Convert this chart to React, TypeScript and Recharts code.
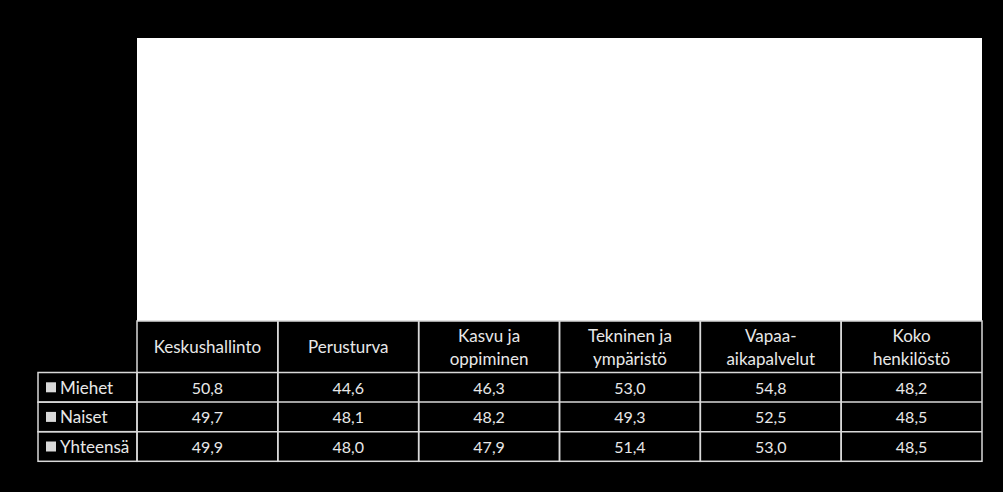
import React from "react";
import { BarChart, Bar, XAxis, YAxis, CartesianGrid } from "recharts";

const categoryLines: string[][] = [
  ["Keskushallinto"],
  ["Perusturva"],
  ["Kasvu ja", "oppiminen"],
  ["Tekninen ja", "ympäristö"],
  ["Vapaa-", "aikapalvelut"],
  ["Koko", "henkilöstö"],
];
const categories = categoryLines.map((l) => l.join(" "));
const miehet = [50.8, 44.6, 46.3, 53.0, 54.8, 48.2];
const naiset = [49.7, 48.1, 48.2, 49.3, 52.5, 48.5];
const yhteensa = [49.9, 48.0, 47.9, 51.4, 53.0, 48.5];
const seriesNames = ["Miehet", "Naiset", "Yhteensä"];
const seriesValues = [miehet, naiset, yhteensa];

const data = categories.map((name, i) => ({
  name,
  Miehet: miehet[i],
  Naiset: naiset[i],
  Yhteensä: yhteensa[i],
}));

const W = 1003;
const H = 492;
const M = { top: 38, right: 21, left: 137, bottom: 1 };
const AXIS_H = 170;
const PLOT_W = W - M.left - M.right;
const COL_W = PLOT_W / categories.length;
const TABLE_TOP = H - M.bottom - AXIS_H;
const HEADER_H = 51.5;
const ROW_H = 29.6;
const LABEL_W = 99;
const LINE = "#d9d9d9";
const TXT = "#e8e8e8";
const FONT = "Lato, 'Open Sans', sans-serif";

const fmt = (v: number) => v.toFixed(1).replace(".", ",");

const TableTick = (props: any) => {
  const { x, payload } = props;
  const i = payload.index;
  const x0 = x - COL_W / 2;
  const lines = categoryLines[i];
  const hc = TABLE_TOP + HEADER_H / 2;
  const els: React.ReactNode[] = [];
  els.push(
    <rect key="h" x={x0} y={TABLE_TOP} width={COL_W} height={HEADER_H + ROW_H * 3} fill="none" stroke={LINE} strokeWidth={1.5} />
  );
  lines.forEach((t, k) => {
    const yy = hc + (k - (lines.length - 1) / 2) * 23;
    els.push(
      <text key={"t" + k} x={x} y={yy} textAnchor="middle" dominantBaseline="central" fill={TXT} fontSize={17} fontFamily={FONT}>
        {t}
      </text>
    );
  });
  seriesValues.forEach((vals, r) => {
    const ry = TABLE_TOP + HEADER_H + r * ROW_H;
    els.push(
      <line key={"l" + r} x1={x0} x2={x0 + COL_W} y1={ry} y2={ry} stroke={LINE} strokeWidth={1.5} />
    );
    els.push(
      <text key={"v" + r} x={x} y={ry + ROW_H / 2} textAnchor="middle" dominantBaseline="central" fill={TXT} fontSize={16} fontFamily={FONT}>
        {fmt(vals[i])}
      </text>
    );
    if (i === 0) {
      const lx = x0 - LABEL_W;
      els.push(
        <rect key={"lr" + r} x={lx} y={ry} width={LABEL_W} height={ROW_H} fill="none" stroke={LINE} strokeWidth={1.5} />
      );
      els.push(
        <rect key={"lk" + r} x={lx + 8} y={ry + ROW_H / 2 - 5} width={10} height={10} fill="#d9d9d9" />
      );
      els.push(
        <text key={"ln" + r} x={lx + 22} y={ry + ROW_H / 2} dominantBaseline="central" fill={TXT} fontSize={17} fontFamily={FONT}>
          {seriesNames[r]}
        </text>
      );
    }
  });
  return <g>{els}</g>;
};

export default function App() {
  return (
    <div style={{ position: "absolute", left: 0, top: 0, width: W, height: H, background: "#000" }}>
      <BarChart width={W} height={H} data={data} margin={M} barCategoryGap="20%">
        <CartesianGrid fill="#ffffff" stroke="#ffffff" horizontal={false} vertical={false} />
        <XAxis dataKey="name" height={AXIS_H} axisLine={false} tickLine={false} interval={0} tick={<TableTick />} />
        <YAxis hide domain={[0, 60]} />
        <Bar dataKey="Miehet" fill="#ffffff" isAnimationActive={false} />
        <Bar dataKey="Naiset" fill="#ffffff" isAnimationActive={false} />
        <Bar dataKey="Yhteensä" fill="#ffffff" isAnimationActive={false} />
      </BarChart>
    </div>
  );
}
